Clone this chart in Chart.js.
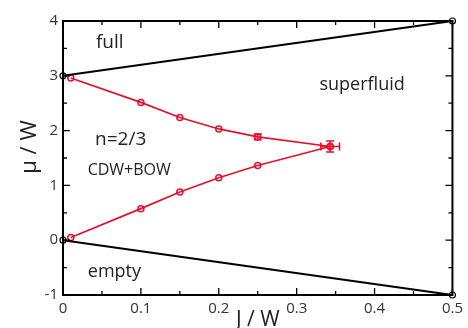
<!DOCTYPE html>
<html>
<head>
<meta charset="utf-8">
<script src="https://cdn.jsdelivr.net/npm/chart.js@4.4.1/dist/chart.umd.min.js"></script>
<style>
  html, body { margin: 0; padding: 0; background: #fff; }
  #wrap { width: 468px; height: 328px; }
</style>
</head>
<body>
<div id="wrap"><canvas id="chart" width="468" height="328"></canvas></div>
<script>
// phase boundaries (black)
const fullLine = [{ x: 0, y: 3 }, { x: 0.5, y: 4 }];
const emptyLine = [{ x: 0, y: 0 }, { x: 0.5, y: -1 }];

// n=2/3 lobe (red)
const jValues = [0.01, 0.1, 0.15, 0.2, 0.25, 0.343];
const muUpper = [2.96, 2.515, 2.24, 2.03, 1.885, 1.71];
const muLower = [0.05, 0.576, 0.88, 1.14, 1.364, 1.71];
const muUpperErr = [0, 0, 0, 0, 0.05, 0.1];
const jErr = [0, 0, 0, 0, 0, 0.012];

const xTickLabels = ['0', '0.1', '0.2', '0.3', '0.4', '0.5'];
const yTickLabels = ['-1', '0', '1', '2', '3', '4'];
const regionNames = ['full', 'superfluid', 'n=2/3', 'CDW+BOW', 'empty'];

const RED = '#e3112f';
const FONT = "'Open Sans', 'DejaVu Sans', sans-serif";

const toPoints = (xs, ys) => xs.map((x, i) => ({ x: x, y: ys[i] }));

// where the region names go (data coords) and their size
const regionPlace = [
  { x: 0.060, y: 3.60, size: 19 },
  { x: 0.384, y: 2.84, size: 18 },
  { x: 0.074, y: 1.84, size: 19 },
  { x: 0.085, y: 1.27, size: 16 },
  { x: 0.066, y: -0.58, size: 18 }
];

const isMajor = (v, step) => Math.abs(v / step - Math.round(v / step)) < 1e-6;

const framePlugin = {
  id: 'frame',
  afterDatasetsDraw(chart) {
    const ctx = chart.ctx;
    const xs = chart.scales.x, ys = chart.scales.y;
    const a = chart.chartArea;
    ctx.save();

    // error bars on the upper branch
    ctx.strokeStyle = RED;
    ctx.lineWidth = 1.6;
    jValues.forEach((j, i) => {
      const px = xs.getPixelForValue(j), py = ys.getPixelForValue(muUpper[i]);
      if (muUpperErr[i] > 0) {
        const t = ys.getPixelForValue(muUpper[i] + muUpperErr[i]);
        const b = ys.getPixelForValue(muUpper[i] - muUpperErr[i]);
        ctx.beginPath();
        ctx.moveTo(px, t); ctx.lineTo(px, b);
        ctx.moveTo(px - 4, t); ctx.lineTo(px + 4, t);
        ctx.moveTo(px - 4, b); ctx.lineTo(px + 4, b);
        ctx.stroke();
      }
      if (jErr[i] > 0) {
        const l = xs.getPixelForValue(j - jErr[i]);
        const r = xs.getPixelForValue(j + jErr[i]);
        ctx.beginPath();
        ctx.moveTo(l, py); ctx.lineTo(r, py);
        ctx.moveTo(l, py - 4); ctx.lineTo(l, py + 4);
        ctx.moveTo(r, py - 4); ctx.lineTo(r, py + 4);
        ctx.stroke();
      }
    });

    // box
    ctx.strokeStyle = '#000';
    ctx.lineWidth = 2;
    ctx.strokeRect(a.left, a.top, a.right - a.left, a.bottom - a.top);

    // inward ticks on all four sides
    ctx.lineWidth = 1.3;
    ctx.beginPath();
    xs.ticks.forEach(t => {
      const px = xs.getPixelForValue(t.value);
      const len = isMajor(t.value, 0.1) ? 7 : 4;
      ctx.moveTo(px, a.bottom); ctx.lineTo(px, a.bottom - len);
      ctx.moveTo(px, a.top); ctx.lineTo(px, a.top + len);
    });
    ys.ticks.forEach(t => {
      const py = ys.getPixelForValue(t.value);
      const len = isMajor(t.value, 1) ? 7 : 4;
      ctx.moveTo(a.left, py); ctx.lineTo(a.left + len, py);
      ctx.moveTo(a.right, py); ctx.lineTo(a.right - len, py);
    });
    ctx.stroke();

    // region names
    ctx.fillStyle = '#222';
    ctx.textAlign = 'center';
    ctx.textBaseline = 'middle';
    regionNames.forEach((name, i) => {
      const p = regionPlace[i];
      ctx.font = p.size + 'px ' + FONT;
      ctx.fillText(name, xs.getPixelForValue(p.x), ys.getPixelForValue(p.y));
    });

    // y axis title
    ctx.translate(30, 147);
    ctx.rotate(-Math.PI / 2);
    ctx.font = '22px ' + FONT;
    ctx.fillText('\u03bc / W', 0, 0);
    ctx.restore();
  }
};

new Chart(document.getElementById('chart'), {
  type: 'line',
  data: {
    datasets: [
      {
        data: fullLine, borderColor: '#000', borderWidth: 2,
        pointRadius: 3, pointBorderWidth: 1.2, pointBorderColor: '#000',
        pointBackgroundColor: 'rgba(0,0,0,0)', clip: false
      },
      {
        data: emptyLine, borderColor: '#000', borderWidth: 2,
        pointRadius: 3, pointBorderWidth: 1.2, pointBorderColor: '#000',
        pointBackgroundColor: 'rgba(0,0,0,0)', clip: false
      },
      {
        data: toPoints(jValues, muUpper), borderColor: RED, borderWidth: 1.7,
        pointRadius: 3, pointBorderWidth: 1.5, pointBorderColor: RED,
        pointBackgroundColor: 'rgba(0,0,0,0)', clip: false
      },
      {
        data: toPoints(jValues, muLower), borderColor: RED, borderWidth: 1.7,
        pointRadius: 3, pointBorderWidth: 1.5, pointBorderColor: RED,
        pointBackgroundColor: 'rgba(0,0,0,0)', clip: false
      }
    ]
  },
  options: {
    responsive: false,
    animation: false,
    devicePixelRatio: 1,
    layout: { padding: { top: 21, right: 12, left: 0, bottom: 0 } },
    plugins: { legend: { display: false }, tooltip: { enabled: false } },
    elements: { line: { tension: 0 } },
    scales: {
      x: {
        type: 'linear', min: 0, max: 0.5,
        grid: { display: false, drawTicks: false },
        border: { display: false },
        ticks: {
          stepSize: 0.05, autoSkip: false, maxRotation: 0, padding: 5,
          color: '#333', font: { family: FONT, size: 15 },
          callback: v => isMajor(v, 0.1) ? xTickLabels[Math.round(v * 10)] : ''
        },
        title: {
          display: true, text: 'J / W', color: '#222',
          font: { family: FONT, size: 21, lineHeight: 0.8 },
          padding: { top: 0, bottom: 0 }
        },
        afterFit(s) { s.height = 33; }
      },
      y: {
        type: 'linear', min: -1, max: 4,
        grid: { display: false, drawTicks: false },
        border: { display: false },
        ticks: {
          stepSize: 0.5, autoSkip: false, padding: 5,
          color: '#333', font: { family: FONT, size: 15 },
          callback: v => isMajor(v, 1) ? yTickLabels[Math.round(v) + 1] : ''
        },
        afterFit(s) { s.width = 63; }
      }
    }
  },
  plugins: [framePlugin]
});
</script>
</body>
</html>
